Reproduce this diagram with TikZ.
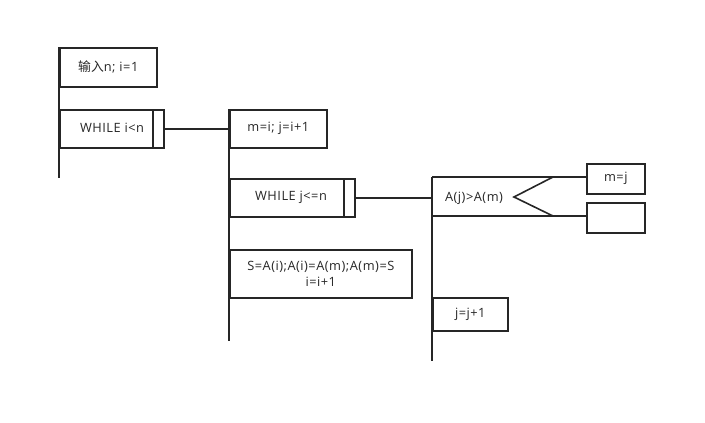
\documentclass[tikz,border=0pt]{standalone}
\usepackage{fontspec}
\setmainfont{Open Sans}[LetterSpace=4]
\newfontfamily\cjk{Noto Sans CJK SC}
\begin{document}
\begin{tikzpicture}[x=1pt,y=-1pt,line join=miter,
  box/.style={draw=black!85,line width=1.6pt,rectangle,inner sep=0pt,anchor=north west,
    font=\fontsize{12.8}{16}\selectfont,text=black!85,align=center},
  txt/.style={font=\fontsize{12.8}{16}\selectfont,text=black!85,inner sep=0pt},
  spine/.style={line width=2.2pt,draw=black!85},
  conn/.style={line width=1.6pt,draw=black!85}]
\useasboundingbox (0,0) rectangle (705,423);
% spines
\coordinate (s1top) at (59,47);
\coordinate (s1bot) at (59,178);
\coordinate (s2top) at (229,109);
\coordinate (s2bot) at (229,341);
\coordinate (s3top) at (432,177);
\coordinate (s3bot) at (432,361);
\coordinate (s3low) at (432,216);
% level 1
\node[box,minimum width=97pt,minimum height=39pt] (inp) at (59,47) {{\cjk 输入}n; i=1};
\node[box,minimum width=93pt,minimum height=38pt] (w1) at (59,109) {};
\node[box,minimum width=11pt,minimum height=38pt] (w1b) at (152,109) {};
\node[txt] (w1t) at (112,128) {WHILE i<n};
% level 2
\node[box,minimum width=97pt,minimum height=38pt] (m1) at (229,109) {m=i; j=i+1};
\node[box,minimum width=114pt,minimum height=38pt] (w2) at (229,178) {};
\node[box,minimum width=11pt,minimum height=38pt] (w2b) at (343,178) {};
\node[txt] (w2t) at (291,197) {WHILE j<=n};
\node[box,minimum width=182pt,minimum height=48pt] (sw) at (229,249) {S=A(i);A(i)=A(m);A(m)=S\\i=i+1};
% level 3
\node[box,minimum width=58pt,minimum height=30pt] (mj) at (586,163) {m=j};
\node[box,minimum width=58pt,minimum height=30pt] (emp) at (586,202) {};
\node[txt] (cond) at (474,198) {A(j)>A(m)};
\coordinate (chtop) at (553,177);
\coordinate (chtip) at (514,197);
\coordinate (chbot) at (553,216);
\node[box,minimum width=75pt,minimum height=33pt] (jj) at (432,297) {j=j+1};
% lines
\draw[spine] (s1top) -- (s1bot);
\draw[spine] (s2top) -- (s2bot);
\draw[spine] (s3top) -- (s3bot);
\draw[conn] (w1b.east) -- (w1b.east -| s2top);
\draw[conn] (w2b.east) -- (w2b.east -| s3top);
\draw[conn] (s3top) -- (s3top -| mj.west);
\draw[conn] (s3low) -- (s3low -| emp.west);
\draw[conn] (chtop) -- (chtip) -- (chbot);
\end{tikzpicture}
\end{document}
